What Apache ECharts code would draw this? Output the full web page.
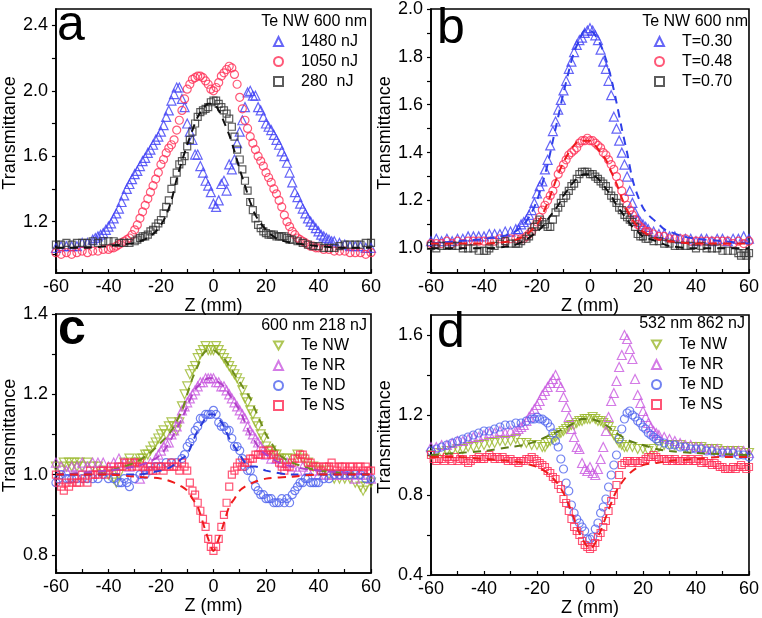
<!DOCTYPE html>
<html><head><meta charset="utf-8">
<script src="https://cdn.jsdelivr.net/npm/echarts@6/dist/echarts.min.js"></script>
<style>html,body{margin:0;padding:0;background:#fff}#c{width:762px;height:618px}</style>
</head><body><div id="c"></div>
<script>
// ---------- axis ticks / labels ----------
const xMin = -60, xMax = 60;
const aYLabels = [1.2, 1.6, 2.0, 2.4];
const aYTicks = [1.0, 1.2, 1.4, 1.6, 1.8, 2.0, 2.2, 2.4];
const bYLabels = [1.0, 1.2, 1.4, 1.6, 1.8, 2.0];
const bYTicks = [0.9, 1.0, 1.1, 1.2, 1.3, 1.4, 1.5, 1.6, 1.7, 1.8, 1.9, 2.0];
const cYLabels = [0.8, 1.0, 1.2, 1.4];
const cYTicks = [0.8, 0.9, 1.0, 1.1, 1.2, 1.3, 1.4];
const dYLabels = [0.4, 0.8, 1.2, 1.6];
const dYTicks = [0.4, 0.6, 0.8, 1.0, 1.2, 1.4, 1.6];

// ---------- panel a : Te NW 600 nm ----------
const aNames = ['1480 nJ', '1050 nJ', '280  nJ'];
const a1480 = [[-60,1.04],[-58,1.05],[-56,1.05],[-54,1.05],[-52,1.05],[-50,1.07],[-48,1.07],[-46,1.09],[-45,1.10],[-44,1.11],[-43,1.12],[-42,1.13],[-41,1.15],[-40,1.17],[-39,1.19],[-38,1.22],[-37,1.25],[-36,1.28],[-35,1.32],[-34,1.36],[-33,1.40],[-32,1.43],[-31,1.46],[-30,1.49],[-29,1.51],[-28,1.54],[-27,1.57],[-26,1.59],[-25,1.62],[-24,1.64],[-23,1.67],[-22,1.70],[-21,1.72],[-20,1.75],[-19,1.79],[-18,1.84],[-17,1.88],[-16,1.94],[-15,1.98],[-14,2.02],[-13,2.02],[-12,1.95],[-11,1.90],[-10,1.80],[-9,1.75],[-8,1.70],[-7,1.61],[-6,1.61],[-5,1.54],[-4,1.50],[-3,1.45],[-2,1.42],[-1,1.38],[0,1.31],[1,1.29],[2,1.33],[3,1.43],[4,1.45],[5,1.39],[6,1.55],[7,1.52],[8,1.58],[9,1.68],[10,1.75],[11,1.82],[12,1.90],[13,1.99],[14,2.00],[15,1.97],[16,1.97],[17,1.90],[18,1.88],[19,1.84],[20,1.80],[21,1.78],[22,1.76],[23,1.73],[24,1.70],[25,1.67],[26,1.63],[27,1.60],[28,1.56],[29,1.50],[30,1.44],[31,1.38],[32,1.35],[33,1.31],[34,1.28],[35,1.25],[36,1.22],[37,1.20],[38,1.18],[39,1.16],[40,1.14],[41,1.12],[42,1.11],[43,1.10],[44,1.09],[45,1.08],[46,1.08],[48,1.07],[50,1.06],[52,1.05],[54,1.05],[56,1.05],[58,1.04],[60,1.04]];
const a1050 = [[-60,1.01],[-58,1.00],[-56,1.01],[-54,1.00],[-52,1.01],[-50,1.02],[-48,1.01],[-46,1.02],[-44,1.02],[-42,1.03],[-40,1.03],[-39,1.04],[-38,1.04],[-37,1.05],[-36,1.06],[-35,1.07],[-34,1.08],[-33,1.09],[-32,1.10],[-31,1.12],[-30,1.15],[-29,1.18],[-28,1.22],[-27,1.26],[-26,1.30],[-25,1.34],[-24,1.38],[-23,1.42],[-22,1.46],[-21,1.50],[-20,1.55],[-19,1.58],[-18,1.62],[-17,1.65],[-16,1.67],[-15,1.70],[-14,1.76],[-13,1.82],[-12,1.88],[-11,1.95],[-10,2.01],[-9,2.04],[-8,2.07],[-7,2.08],[-6,2.09],[-5,2.09],[-4,2.08],[-3,2.06],[-2,2.04],[-1,2.01],[0,2.00],[1,2.02],[2,2.05],[3,2.09],[4,2.11],[5,2.13],[6,2.15],[7,2.14],[8,2.10],[9,2.04],[10,1.96],[11,1.89],[12,1.82],[13,1.77],[14,1.72],[15,1.68],[16,1.64],[17,1.60],[18,1.57],[19,1.54],[20,1.50],[21,1.47],[22,1.44],[23,1.40],[24,1.37],[25,1.33],[26,1.29],[27,1.24],[28,1.20],[29,1.17],[30,1.14],[31,1.12],[32,1.10],[33,1.09],[34,1.08],[35,1.07],[36,1.06],[37,1.05],[38,1.05],[39,1.04],[40,1.04],[42,1.03],[44,1.03],[46,1.02],[48,1.02],[50,1.02],[52,1.01],[54,1.01],[56,1.01],[58,1.00],[60,1.01]];
const a280 = [[-60,1.06],[-58,1.06],[-56,1.07],[-54,1.06],[-52,1.07],[-50,1.07],[-48,1.07],[-46,1.08],[-44,1.07],[-42,1.08],[-40,1.08],[-38,1.08],[-36,1.07],[-34,1.07],[-32,1.07],[-30,1.08],[-29,1.09],[-28,1.10],[-27,1.11],[-26,1.11],[-25,1.12],[-24,1.14],[-23,1.15],[-22,1.17],[-21,1.19],[-20,1.21],[-19,1.25],[-18,1.29],[-17,1.33],[-16,1.40],[-15,1.45],[-14,1.50],[-13,1.55],[-12,1.57],[-11,1.60],[-10,1.66],[-9,1.70],[-8,1.75],[-7,1.80],[-6,1.84],[-5,1.87],[-4,1.88],[-3,1.89],[-2,1.90],[-1,1.93],[0,1.94],[1,1.94],[2,1.92],[3,1.90],[4,1.88],[5,1.86],[6,1.83],[7,1.78],[8,1.72],[9,1.64],[10,1.58],[11,1.52],[12,1.45],[13,1.39],[14,1.32],[15,1.27],[16,1.22],[17,1.18],[18,1.16],[19,1.14],[20,1.13],[21,1.12],[22,1.12],[23,1.12],[24,1.11],[25,1.11],[26,1.11],[27,1.11],[28,1.10],[29,1.09],[30,1.09],[32,1.08],[34,1.07],[36,1.06],[38,1.05],[40,1.05],[42,1.04],[44,1.04],[46,1.04],[48,1.05],[50,1.06],[52,1.06],[54,1.06],[56,1.06],[58,1.07],[60,1.07]];
const a280Fit = [[-60,1.04],[-50,1.04],[-40,1.05],[-35,1.06],[-30,1.07],[-25,1.10],[-22,1.14],[-20,1.18],[-18,1.24],[-16,1.33],[-14,1.46],[-12,1.57],[-10,1.67],[-8,1.76],[-6,1.84],[-4,1.89],[-2,1.92],[0,1.92],[2,1.88],[4,1.81],[6,1.73],[8,1.63],[10,1.52],[12,1.42],[14,1.32],[16,1.24],[18,1.19],[20,1.15],[22,1.12],[25,1.09],[30,1.07],[35,1.06],[40,1.05],[50,1.04],[60,1.04]];

// ---------- panel b : Te NW 600 nm, T ----------
const bNames = ['T=0.30', 'T=0.48', 'T=0.70'];
const b030 = [[-60,1.03],[-58,1.04],[-56,1.03],[-54,1.04],[-52,1.03],[-50,1.04],[-48,1.04],[-46,1.05],[-44,1.05],[-42,1.05],[-40,1.05],[-38,1.06],[-36,1.06],[-34,1.06],[-32,1.07],[-30,1.07],[-28,1.08],[-27,1.08],[-26,1.10],[-25,1.11],[-24,1.12],[-23,1.14],[-22,1.16],[-21,1.19],[-20,1.23],[-19,1.26],[-18,1.28],[-17,1.33],[-16,1.37],[-15,1.43],[-14,1.49],[-13,1.53],[-12,1.58],[-11,1.62],[-10,1.66],[-9,1.70],[-8,1.75],[-7,1.78],[-6,1.82],[-5,1.85],[-4,1.87],[-3,1.88],[-2,1.90],[-1,1.91],[0,1.92],[1,1.91],[2,1.89],[3,1.87],[4,1.83],[5,1.78],[6,1.75],[7,1.70],[8,1.64],[9,1.55],[10,1.50],[11,1.45],[12,1.40],[13,1.35],[14,1.30],[15,1.24],[16,1.19],[17,1.15],[18,1.12],[19,1.11],[20,1.10],[21,1.09],[22,1.08],[24,1.07],[26,1.06],[28,1.06],[30,1.05],[32,1.05],[34,1.04],[36,1.04],[38,1.04],[40,1.03],[42,1.04],[44,1.04],[46,1.03],[48,1.04],[50,1.04],[52,1.03],[54,1.04],[56,1.04],[58,1.05],[60,1.04]];
const b048 = [[-60,1.02],[-58,1.02],[-56,1.02],[-54,1.03],[-52,1.02],[-50,1.03],[-48,1.02],[-46,1.03],[-44,1.03],[-42,1.03],[-40,1.03],[-38,1.03],[-36,1.03],[-34,1.04],[-32,1.03],[-30,1.04],[-28,1.04],[-26,1.04],[-25,1.04],[-24,1.05],[-23,1.06],[-22,1.07],[-21,1.09],[-20,1.11],[-19,1.13],[-18,1.16],[-17,1.18],[-16,1.20],[-15,1.22],[-14,1.24],[-13,1.27],[-12,1.31],[-11,1.33],[-10,1.35],[-9,1.37],[-8,1.39],[-7,1.40],[-6,1.41],[-5,1.42],[-4,1.44],[-3,1.45],[-2,1.45],[-1,1.46],[0,1.45],[1,1.45],[2,1.44],[3,1.43],[4,1.42],[5,1.40],[6,1.39],[7,1.37],[8,1.35],[9,1.33],[10,1.30],[11,1.27],[12,1.24],[13,1.21],[14,1.18],[15,1.16],[16,1.14],[17,1.12],[18,1.10],[19,1.09],[20,1.08],[21,1.07],[22,1.07],[24,1.06],[26,1.05],[28,1.05],[30,1.04],[32,1.04],[34,1.04],[36,1.04],[38,1.03],[40,1.03],[42,1.03],[44,1.03],[46,1.03],[48,1.03],[50,1.03],[52,1.03],[54,1.02],[56,1.03],[58,1.02],[60,1.03]];
const b070 = [[-60,1.01],[-58,1.00],[-56,1.01],[-54,1.01],[-52,1.01],[-50,1.01],[-48,1.00],[-46,1.00],[-44,1.00],[-42,0.99],[-40,0.99],[-39,0.99],[-38,1.00],[-36,1.01],[-34,1.02],[-32,1.03],[-30,1.02],[-28,1.02],[-27,1.02],[-26,1.03],[-24,1.04],[-23,1.05],[-22,1.07],[-21,1.09],[-20,1.10],[-19,1.12],[-18,1.11],[-17,1.10],[-16,1.09],[-15,1.09],[-14,1.12],[-13,1.15],[-12,1.17],[-11,1.19],[-10,1.21],[-9,1.22],[-8,1.24],[-7,1.26],[-6,1.27],[-5,1.29],[-4,1.31],[-3,1.32],[-2,1.32],[-1,1.32],[0,1.31],[1,1.31],[2,1.30],[3,1.29],[4,1.28],[5,1.27],[6,1.26],[7,1.24],[8,1.22],[9,1.21],[10,1.19],[11,1.17],[12,1.16],[13,1.14],[14,1.13],[15,1.12],[16,1.11],[17,1.09],[18,1.06],[19,1.05],[20,1.05],[21,1.04],[22,1.04],[24,1.03],[26,1.03],[28,1.02],[30,1.02],[32,1.01],[34,1.01],[36,1.01],[38,1.01],[40,1.00],[42,1.01],[44,1.00],[46,1.00],[48,1.00],[50,0.99],[52,0.99],[54,0.99],[56,0.98],[57,0.97],[58,0.98],[59,0.97],[60,0.98]];
const b030Fit = [[-60,1.02],[-50,1.03],[-40,1.04],[-30,1.06],[-25,1.10],[-22,1.15],[-20,1.20],[-18,1.27],[-16,1.35],[-14,1.45],[-12,1.55],[-10,1.65],[-8,1.74],[-6,1.82],[-4,1.87],[-2,1.91],[0,1.91],[2,1.89],[4,1.85],[6,1.79],[8,1.71],[10,1.61],[12,1.50],[14,1.40],[16,1.29],[18,1.22],[20,1.17],[22,1.14],[24,1.12],[26,1.10],[28,1.08],[30,1.07],[35,1.05],[40,1.04],[50,1.03],[60,1.02]];
const b048Fit = [[-60,1.02],[-40,1.02],[-30,1.03],[-25,1.05],[-20,1.10],[-18,1.14],[-16,1.19],[-14,1.25],[-12,1.31],[-10,1.36],[-8,1.40],[-6,1.43],[-4,1.45],[-2,1.45],[0,1.45],[2,1.43],[4,1.40],[6,1.37],[8,1.32],[10,1.27],[12,1.21],[14,1.16],[16,1.12],[18,1.09],[20,1.07],[25,1.04],[30,1.03],[40,1.02],[60,1.02]];
const b070Fit = [[-60,1.00],[-40,1.00],[-30,1.01],[-25,1.03],[-20,1.07],[-18,1.09],[-16,1.12],[-14,1.15],[-12,1.18],[-10,1.22],[-8,1.25],[-6,1.28],[-4,1.30],[-2,1.31],[0,1.31],[2,1.30],[4,1.28],[6,1.25],[8,1.22],[10,1.18],[12,1.15],[14,1.12],[16,1.09],[18,1.07],[20,1.05],[25,1.03],[30,1.01],[40,1.00],[60,1.00]];

// ---------- panel c : 600 nm 218 nJ ----------
const cdNames = ['Te NW', 'Te NR', 'Te ND', 'Te NS'];
const cNW = [[-60,1.02],[-58,1.01],[-57,1.03],[-56,1.02],[-55,1.03],[-54,1.02],[-53,1.03],[-52,1.02],[-51,1.03],[-50,1.02],[-48,1.03],[-46,1.02],[-44,1.02],[-42,1.01],[-40,1.00],[-38,0.99],[-37,0.98],[-36,1.00],[-34,1.03],[-32,1.04],[-30,1.03],[-29,1.03],[-28,1.04],[-27,1.04],[-26,1.05],[-25,1.05],[-24,1.06],[-23,1.07],[-22,1.08],[-21,1.09],[-20,1.10],[-19,1.11],[-18,1.10],[-17,1.12],[-16,1.13],[-15,1.12],[-14,1.11],[-13,1.13],[-12,1.17],[-11,1.20],[-10,1.22],[-9,1.25],[-8,1.26],[-7,1.27],[-6,1.29],[-5,1.30],[-4,1.31],[-3,1.32],[-2,1.31],[-1,1.31],[0,1.31],[1,1.32],[2,1.31],[3,1.30],[4,1.29],[5,1.28],[6,1.27],[7,1.26],[8,1.25],[9,1.24],[10,1.23],[11,1.21],[12,1.19],[13,1.18],[14,1.16],[15,1.15],[16,1.13],[17,1.12],[18,1.10],[19,1.09],[20,1.07],[21,1.06],[22,1.06],[23,1.05],[24,1.05],[25,1.04],[26,1.04],[28,1.04],[30,1.04],[32,1.05],[34,1.04],[36,1.03],[38,1.02],[40,1.01],[42,1.01],[44,1.00],[46,0.99],[48,0.99],[50,0.99],[52,0.99],[54,0.98],[56,0.97],[57,0.96],[58,0.97],[60,0.98]];
const cNR = [[-60,1.03],[-58,1.02],[-56,1.01],[-54,1.02],[-52,1.02],[-50,1.03],[-48,1.02],[-46,1.03],[-44,1.03],[-42,1.03],[-40,1.02],[-38,1.03],[-36,1.04],[-34,1.03],[-32,1.02],[-30,1.03],[-28,0.99],[-26,1.02],[-24,1.03],[-22,1.04],[-21,1.05],[-20,1.06],[-19,1.07],[-18,1.08],[-17,1.08],[-16,1.10],[-15,1.11],[-14,1.12],[-13,1.14],[-12,1.16],[-11,1.17],[-10,1.18],[-9,1.19],[-8,1.20],[-7,1.21],[-6,1.22],[-5,1.23],[-4,1.23],[-3,1.24],[-2,1.24],[-1,1.24],[0,1.24],[1,1.23],[2,1.23],[3,1.22],[4,1.22],[5,1.21],[6,1.20],[7,1.19],[8,1.18],[9,1.17],[10,1.16],[11,1.15],[12,1.14],[13,1.12],[14,1.11],[15,1.10],[16,1.09],[17,1.08],[18,1.07],[19,1.06],[20,1.05],[22,1.04],[24,1.04],[26,1.03],[28,1.03],[30,1.02],[32,1.01],[34,1.02],[36,1.01],[38,1.01],[40,1.00],[42,1.00],[44,1.00],[46,1.00],[48,1.00],[50,1.00],[52,1.00],[54,0.99],[56,1.00],[58,1.00],[60,0.99]];
const cND = [[-60,0.98],[-59,0.99],[-58,1.00],[-56,0.99],[-55,0.99],[-54,0.99],[-52,0.99],[-50,0.99],[-48,0.99],[-46,0.99],[-44,0.99],[-42,1.00],[-40,0.99],[-38,0.99],[-36,0.98],[-35,0.98],[-34,0.99],[-33,0.98],[-32,0.97],[-30,0.99],[-28,1.00],[-26,1.00],[-24,1.01],[-22,1.02],[-20,1.02],[-18,1.03],[-16,1.03],[-14,1.03],[-12,1.04],[-11,1.05],[-10,1.07],[-9,1.08],[-8,1.09],[-7,1.11],[-6,1.12],[-5,1.14],[-4,1.14],[-3,1.15],[-2,1.15],[-1,1.15],[0,1.16],[1,1.15],[2,1.13],[3,1.12],[4,1.12],[5,1.11],[6,1.11],[7,1.09],[8,1.07],[9,1.07],[10,1.06],[11,1.04],[12,1.02],[13,1.01],[14,1.01],[15,0.99],[16,0.97],[17,0.96],[18,0.95],[19,0.95],[20,0.94],[21,0.94],[22,0.94],[23,0.93],[24,0.93],[25,0.93],[26,0.94],[27,0.93],[28,0.94],[29,0.93],[30,0.95],[31,0.96],[32,0.97],[33,0.98],[34,0.98],[35,0.99],[36,0.99],[37,0.98],[38,0.98],[39,0.98],[40,0.98],[42,0.99],[44,0.99],[46,1.00],[48,1.00],[50,1.00],[52,1.00],[54,1.00],[56,1.00],[58,0.99],[60,0.99]];
const cNS = [[-60,1.00],[-59,0.98],[-58,0.97],[-57,0.96],[-56,0.98],[-55,0.97],[-54,0.98],[-53,0.99],[-52,0.98],[-51,0.98],[-50,1.00],[-49,0.99],[-48,0.98],[-47,1.01],[-46,1.00],[-45,1.00],[-44,1.00],[-43,1.01],[-42,1.01],[-41,1.00],[-40,1.01],[-39,1.02],[-38,1.01],[-37,1.01],[-36,1.02],[-35,1.02],[-34,1.03],[-33,1.02],[-32,1.03],[-31,1.02],[-30,1.03],[-29,1.02],[-28,1.03],[-27,1.02],[-26,1.01],[-25,1.02],[-24,1.02],[-23,1.01],[-22,1.01],[-21,1.02],[-20,1.02],[-19,1.01],[-18,1.02],[-17,1.02],[-16,1.03],[-15,1.02],[-14,1.02],[-13,1.01],[-12,1.03],[-11,1.02],[-10,1.01],[-9,0.98],[-8,0.96],[-7,0.95],[-6,0.93],[-5,0.91],[-4,0.89],[-3,0.87],[-2,0.84],[-1,0.82],[0,0.81],[1,0.82],[2,0.84],[3,0.87],[4,0.90],[5,0.93],[6,0.97],[7,1.00],[8,1.01],[9,1.02],[10,1.03],[11,1.02],[12,1.03],[13,1.03],[14,1.04],[15,1.04],[16,1.05],[17,1.05],[18,1.05],[19,1.06],[20,1.05],[21,1.06],[22,1.05],[23,1.05],[24,1.04],[25,1.03],[26,1.02],[27,1.01],[28,1.02],[29,1.02],[30,1.03],[31,1.04],[32,1.04],[33,1.05],[34,1.05],[35,1.04],[36,1.03],[37,1.03],[38,1.02],[39,1.02],[40,1.02],[41,1.01],[42,1.02],[43,1.02],[44,1.02],[45,1.03],[46,1.02],[47,1.01],[48,1.02],[49,1.02],[50,1.02],[51,1.01],[52,1.02],[53,1.02],[54,1.01],[55,1.02],[56,1.02],[57,1.01],[58,1.02],[59,1.01],[60,1.01]];
const cNWFit = [[-60,1.00],[-40,1.01],[-30,1.03],[-25,1.05],[-20,1.08],[-16,1.11],[-12,1.16],[-10,1.20],[-8,1.24],[-6,1.27],[-4,1.30],[-2,1.31],[0,1.31],[2,1.30],[4,1.29],[6,1.27],[8,1.25],[10,1.23],[12,1.21],[14,1.19],[16,1.16],[18,1.13],[20,1.10],[22,1.08],[25,1.05],[30,1.03],[40,1.01],[60,1.00]];
const cNRFit = [[-60,1.00],[-40,1.01],[-30,1.02],[-25,1.03],[-20,1.05],[-16,1.09],[-12,1.14],[-10,1.17],[-8,1.20],[-6,1.22],[-4,1.23],[-2,1.24],[0,1.24],[2,1.23],[4,1.22],[6,1.20],[8,1.18],[10,1.16],[12,1.13],[14,1.10],[16,1.08],[18,1.06],[20,1.05],[25,1.03],[30,1.02],[40,1.01],[60,1.00]];
const cNDFit = [[-60,1.00],[-40,1.00],[-30,1.00],[-20,1.01],[-16,1.02],[-12,1.04],[-10,1.05],[-8,1.08],[-6,1.11],[-4,1.13],[-2,1.15],[0,1.15],[2,1.14],[4,1.12],[6,1.09],[8,1.07],[10,1.05],[12,1.03],[14,1.02],[16,1.02],[20,1.01],[30,1.00],[60,1.00]];
const cNSFit = [[-60,1.00],[-40,1.00],[-30,0.995],[-20,0.99],[-15,0.98],[-12,0.97],[-10,0.96],[-8,0.94],[-6,0.92],[-4,0.88],[-2,0.84],[0,0.81],[2,0.84],[4,0.88],[6,0.92],[8,0.94],[10,0.96],[12,0.97],[15,0.98],[20,0.99],[30,0.995],[40,1.00],[60,1.00]];

// ---------- panel d : 532 nm 862 nJ ----------
const dNW = [[-60,1.00],[-58,1.01],[-56,1.01],[-54,1.02],[-52,1.02],[-50,1.03],[-48,1.03],[-46,1.04],[-44,1.04],[-42,1.05],[-40,1.05],[-38,1.06],[-36,1.06],[-34,1.07],[-32,1.07],[-30,1.07],[-28,1.08],[-26,1.06],[-24,1.06],[-22,1.05],[-20,1.05],[-18,1.04],[-17,1.04],[-16,1.06],[-15,1.07],[-14,1.08],[-13,1.09],[-12,1.10],[-11,1.11],[-10,1.12],[-9,1.13],[-8,1.14],[-7,1.15],[-6,1.15],[-5,1.16],[-4,1.17],[-3,1.17],[-2,1.18],[-1,1.18],[0,1.18],[1,1.19],[2,1.18],[3,1.17],[4,1.17],[5,1.16],[6,1.15],[7,1.14],[8,1.12],[9,1.10],[10,1.08],[11,1.06],[12,1.05],[13,1.04],[14,1.04],[16,1.04],[18,1.03],[20,1.03],[22,1.02],[24,1.03],[26,1.04],[28,1.05],[30,1.05],[32,1.05],[34,1.05],[36,1.04],[38,1.04],[40,1.04],[42,1.04],[44,1.03],[46,1.03],[48,1.03],[50,1.02],[52,1.02],[54,1.02],[56,1.02],[58,1.01],[60,1.01]];
const dNR = [[-60,1.04],[-58,1.04],[-56,1.05],[-54,1.05],[-52,1.06],[-50,1.07],[-48,1.07],[-46,1.08],[-44,1.09],[-42,1.09],[-40,1.10],[-38,1.11],[-36,1.11],[-34,1.12],[-32,1.11],[-30,1.12],[-28,1.12],[-27,1.13],[-26,1.14],[-25,1.15],[-24,1.17],[-23,1.19],[-22,1.21],[-21,1.23],[-20,1.25],[-19,1.27],[-18,1.30],[-17,1.32],[-16,1.34],[-15,1.36],[-14,1.38],[-13,1.40],[-12,1.36],[-11,1.34],[-10,1.29],[-9,1.24],[-8,1.19],[-7,1.13],[-6,1.09],[-5,1.04],[-4,1.03],[-3,0.96],[-2,0.93],[-1,0.92],[0,0.94],[1,0.91],[2,0.90],[3,0.93],[4,0.98],[5,1.04],[6,1.12],[7,1.19],[8,1.27],[9,1.31],[10,1.37],[11,1.44],[12,1.50],[13,1.60],[14,1.58],[15,1.53],[16,1.48],[17,1.38],[18,1.30],[19,1.26],[20,1.22],[21,1.19],[22,1.16],[23,1.14],[24,1.12],[25,1.11],[26,1.10],[28,1.09],[30,1.08],[32,1.07],[34,1.06],[36,1.05],[38,1.05],[40,1.04],[42,1.04],[44,1.03],[46,1.03],[48,1.03],[50,1.02],[52,1.02],[54,1.02],[56,1.02],[58,1.02],[60,1.01]];
const dND = [[-60,1.02],[-58,1.03],[-56,1.04],[-54,1.05],[-52,1.06],[-50,1.07],[-48,1.08],[-46,1.09],[-44,1.10],[-42,1.11],[-40,1.12],[-38,1.12],[-36,1.13],[-34,1.14],[-32,1.15],[-30,1.15],[-28,1.16],[-26,1.16],[-24,1.17],[-22,1.18],[-21,1.18],[-20,1.19],[-19,1.18],[-18,1.18],[-17,1.17],[-16,1.16],[-15,1.14],[-14,1.11],[-13,1.07],[-12,1.04],[-11,0.98],[-10,0.93],[-9,0.86],[-8,0.82],[-7,0.75],[-6,0.71],[-5,0.68],[-4,0.66],[-3,0.64],[-2,0.62],[-1,0.58],[0,0.58],[1,0.59],[2,0.63],[3,0.66],[4,0.71],[5,0.74],[6,0.78],[7,0.84],[8,0.90],[9,0.95],[10,1.00],[11,1.08],[12,1.13],[13,1.18],[14,1.21],[15,1.22],[16,1.20],[17,1.19],[18,1.17],[19,1.16],[20,1.14],[21,1.13],[22,1.11],[23,1.10],[24,1.09],[25,1.08],[26,1.07],[28,1.06],[30,1.05],[32,1.05],[34,1.04],[36,1.04],[38,1.03],[40,1.03],[42,1.03],[44,1.02],[46,1.02],[48,1.01],[50,1.01],[52,1.01],[54,1.01],[56,1.00],[58,1.00],[60,0.99]];
const dNS = [[-60,1.00],[-59,0.98],[-58,0.97],[-57,0.98],[-56,0.98],[-55,0.97],[-54,0.99],[-53,0.98],[-52,0.97],[-51,0.99],[-50,0.97],[-49,0.98],[-48,0.98],[-47,0.97],[-46,0.96],[-45,0.97],[-44,0.98],[-43,0.98],[-42,0.99],[-41,0.98],[-40,0.98],[-39,0.99],[-38,1.00],[-37,0.99],[-36,0.98],[-35,0.99],[-34,0.98],[-33,0.99],[-32,0.98],[-31,0.97],[-30,0.98],[-29,0.97],[-28,0.97],[-27,0.96],[-26,0.97],[-25,0.97],[-24,0.98],[-23,0.98],[-22,0.99],[-21,0.98],[-20,0.97],[-19,0.96],[-18,0.95],[-17,0.94],[-16,0.92],[-15,0.91],[-14,0.89],[-13,0.88],[-12,0.85],[-11,0.83],[-10,0.78],[-9,0.76],[-8,0.72],[-7,0.68],[-6,0.64],[-5,0.62],[-4,0.60],[-3,0.57],[-2,0.55],[-1,0.54],[0,0.53],[1,0.54],[2,0.56],[3,0.59],[4,0.61],[5,0.64],[6,0.67],[7,0.72],[8,0.77],[9,0.80],[10,0.85],[11,0.90],[12,0.95],[13,0.96],[14,0.97],[15,0.97],[16,0.96],[17,0.97],[18,0.96],[19,0.97],[20,0.97],[21,0.98],[22,0.99],[23,0.99],[24,1.00],[25,0.99],[26,0.98],[27,0.98],[28,0.98],[29,0.97],[30,0.98],[31,0.97],[32,0.98],[33,0.97],[34,0.97],[35,0.97],[36,0.98],[37,0.97],[38,0.98],[39,0.97],[40,0.97],[41,0.98],[42,0.96],[43,0.97],[44,0.96],[45,0.96],[46,0.95],[47,0.96],[48,0.95],[49,0.94],[50,0.94],[51,0.93],[52,0.93],[53,0.93],[54,0.94],[55,0.93],[56,0.94],[57,0.95],[58,0.94],[59,0.93],[60,0.94]];
const dNWFit = [[-60,1.00],[-50,1.01],[-40,1.02],[-30,1.04],[-25,1.05],[-20,1.07],[-15,1.10],[-10,1.13],[-6,1.16],[-3,1.18],[0,1.18],[3,1.17],[6,1.15],[10,1.11],[15,1.07],[20,1.05],[25,1.03],[30,1.02],[40,1.01],[60,1.00]];
const dNSFit = [[-60,0.99],[-50,0.99],[-40,0.98],[-30,0.97],[-25,0.96],[-20,0.94],[-16,0.91],[-13,0.87],[-10,0.81],[-8,0.75],[-6,0.68],[-4,0.61],[-2,0.56],[0,0.53],[2,0.56],[4,0.62],[6,0.69],[8,0.76],[10,0.82],[13,0.88],[16,0.92],[20,0.95],[25,0.96],[30,0.97],[40,0.98],[50,0.99],[60,0.99]];

// ---------- styling ----------
const FONT = "'Liberation Sans', Arial, sans-serif";
const BLUE = '#3f3ff5', RED = '#ff2e55', BLACK = '#333333';
const GREEN = '#9ab82a', MAGENTA = '#c95ae0', NDBLUE = '#4f63ee', NSRED = '#ff2a52';
const DOWN_TRI = 'path://M0,0 L10,0 L5,9 Z';

const grids = [
  {left: 53, top: 9, width: 318, height: 264},
  {left: 431, top: 9, width: 319, height: 264},
  {left: 53, top: 314, width: 318, height: 259},
  {left: 431, top: 315, width: 319, height: 260}
];
const yRanges = [[0.886, 2.5], [0.897, 2.0], [0.755, 1.4], [0.4, 1.7]];
const yLabelSets = [aYLabels, bYLabels, cYLabels, dYLabels];
const yTickSets = [aYTicks, bYTicks, cYTicks, dYTicks];

const xAxes = grids.map((g, i) => ({
  gridIndex: i, type: 'value', min: xMin, max: xMax, interval: 10,
  axisLine: {show: true, onZero: false, lineStyle: {color: '#000', width: 1.6}},
  axisTick: {inside: true, length: 4, lineStyle: {color: '#000', width: 1.2}},
  axisLabel: {fontSize: 18, color: '#000', fontFamily: FONT, margin: 5,
    formatter: v => (v % 20 === 0 ? String(v) : '')},
  splitLine: {show: false},
  name: 'Z (mm)', nameLocation: 'middle', nameGap: 15,
  nameTextStyle: {fontSize: 18, color: '#000', fontFamily: FONT}
}));
const yAxes = grids.map((g, i) => ({
  gridIndex: i, type: 'value', min: yRanges[i][0], max: yRanges[i][1],
  axisLine: {show: true, onZero: false, lineStyle: {color: '#000', width: 1.6}},
  axisTick: {inside: false, length: 4, customValues: yTickSets[i], lineStyle: {color: '#000', width: 1.2}},
  axisLabel: {fontSize: 18, color: '#000', fontFamily: FONT, margin: 8,
    customValues: yLabelSets[i], formatter: v => Number(v).toFixed(1)},
  splitLine: {show: false},
  name: 'Transmittance', nameLocation: 'middle', nameGap: 34, nameRotate: 90,
  nameTextStyle: {fontSize: 18, color: '#000', fontFamily: FONT, padding: [0, 0, 0, 16]}
}));

function sc(name, data, gi, symbol, color, size) {
  return {type: 'scatter', name, data, xAxisIndex: gi, yAxisIndex: gi,
    symbol, symbolSize: size,
    itemStyle: {color: 'rgba(0,0,0,0)', borderColor: color, borderWidth: 1.2},
    silent: true, z: 3};
}
function fit(data, gi, color) {
  return {type: 'line', data, xAxisIndex: gi, yAxisIndex: gi, symbol: 'none', showSymbol: false,
    smooth: 0.3, lineStyle: {type: [8, 6], width: 2, color}, silent: true, z: 4};
}

const series = [
  sc(aNames[0], a1480, 0, 'triangle', BLUE, 9),
  sc(aNames[1], a1050, 0, 'circle', RED, 8),
  sc(aNames[2], a280, 0, 'rect', BLACK, 7),
  fit(a280Fit, 0, '#111'),
  sc(bNames[0], b030, 1, 'triangle', BLUE, 9),
  sc(bNames[1], b048, 1, 'circle', RED, 8),
  sc(bNames[2], b070, 1, 'rect', BLACK, 7),
  fit(b030Fit, 1, '#2f3fe8'),
  fit(b048Fit, 1, '#ee1c1c'),
  fit(b070Fit, 1, '#111'),
  sc(cdNames[0], cNW, 2, DOWN_TRI, GREEN, 9),
  sc(cdNames[1], cNR, 2, 'triangle', MAGENTA, 9),
  sc(cdNames[2], cND, 2, 'circle', NDBLUE, 8),
  sc(cdNames[3], cNS, 2, 'rect', NSRED, 7),
  fit(cNWFit, 2, '#6f8c1c'),
  fit(cNRFit, 2, '#b040c8'),
  fit(cNDFit, 2, '#2a3ad8'),
  fit(cNSFit, 2, '#ee1c1c'),
  sc(cdNames[0], dNW, 3, DOWN_TRI, GREEN, 9),
  sc(cdNames[1], dNR, 3, 'triangle', MAGENTA, 9),
  sc(cdNames[2], dND, 3, 'circle', NDBLUE, 8),
  sc(cdNames[3], dNS, 3, 'rect', NSRED, 7),
  fit(dNWFit, 3, '#5f7d18'),
  fit(dNSFit, 3, '#ee1c1c')
];

function lg(names, left, top) {
  return {data: names.map(n => (n === 'Te NW' ? {name: n, icon: DOWN_TRI} : n)),
    orient: 'vertical', left, top, padding: 0, itemGap: 1,
    itemWidth: 9, itemHeight: 9, selectedMode: false,
    textStyle: {fontSize: 16, color: '#000', fontFamily: FONT, lineHeight: 19, padding: [0, 0, 0, 13]}};
}
const legends = [lg(aNames, 273, 32), lg(bNames, 654, 32), lg(cdNames, 273, 336), lg(cdNames, 651, 335)];

function txt(text, x, y, size, align, weight) {
  return {type: 'text', x, y, silent: true, z: 10,
    style: {text, fontSize: size, fontFamily: FONT, fontWeight: weight || 'normal', fill: '#000',
      align: align || 'left', verticalAlign: 'middle'}};
}
const graphics = [
  txt('a', 57, 26, 50), txt('b', 437, 29, 50), txt('c', 58, 330, 50, 'left', 'bold'), txt('d', 437, 333, 50),
  txt('Te NW 600 nm', 367, 22, 16, 'right'), txt('Te NW 600 nm', 748, 22, 16, 'right'),
  txt('600 nm 218 nJ', 367, 326, 16, 'right'), txt('532 nm 862 nJ', 745, 324, 16, 'right')
];

const chart = echarts.init(document.getElementById('c'), null, {renderer: 'canvas'});
chart.setOption({
  animation: false, backgroundColor: '#fff',
  grid: grids.map(g => Object.assign({show: true, borderColor: '#000', borderWidth: 1.6, backgroundColor: 'transparent'}, g)),
  xAxis: xAxes, yAxis: yAxes, legend: legends, series, graphic: graphics
});
</script></body></html>
